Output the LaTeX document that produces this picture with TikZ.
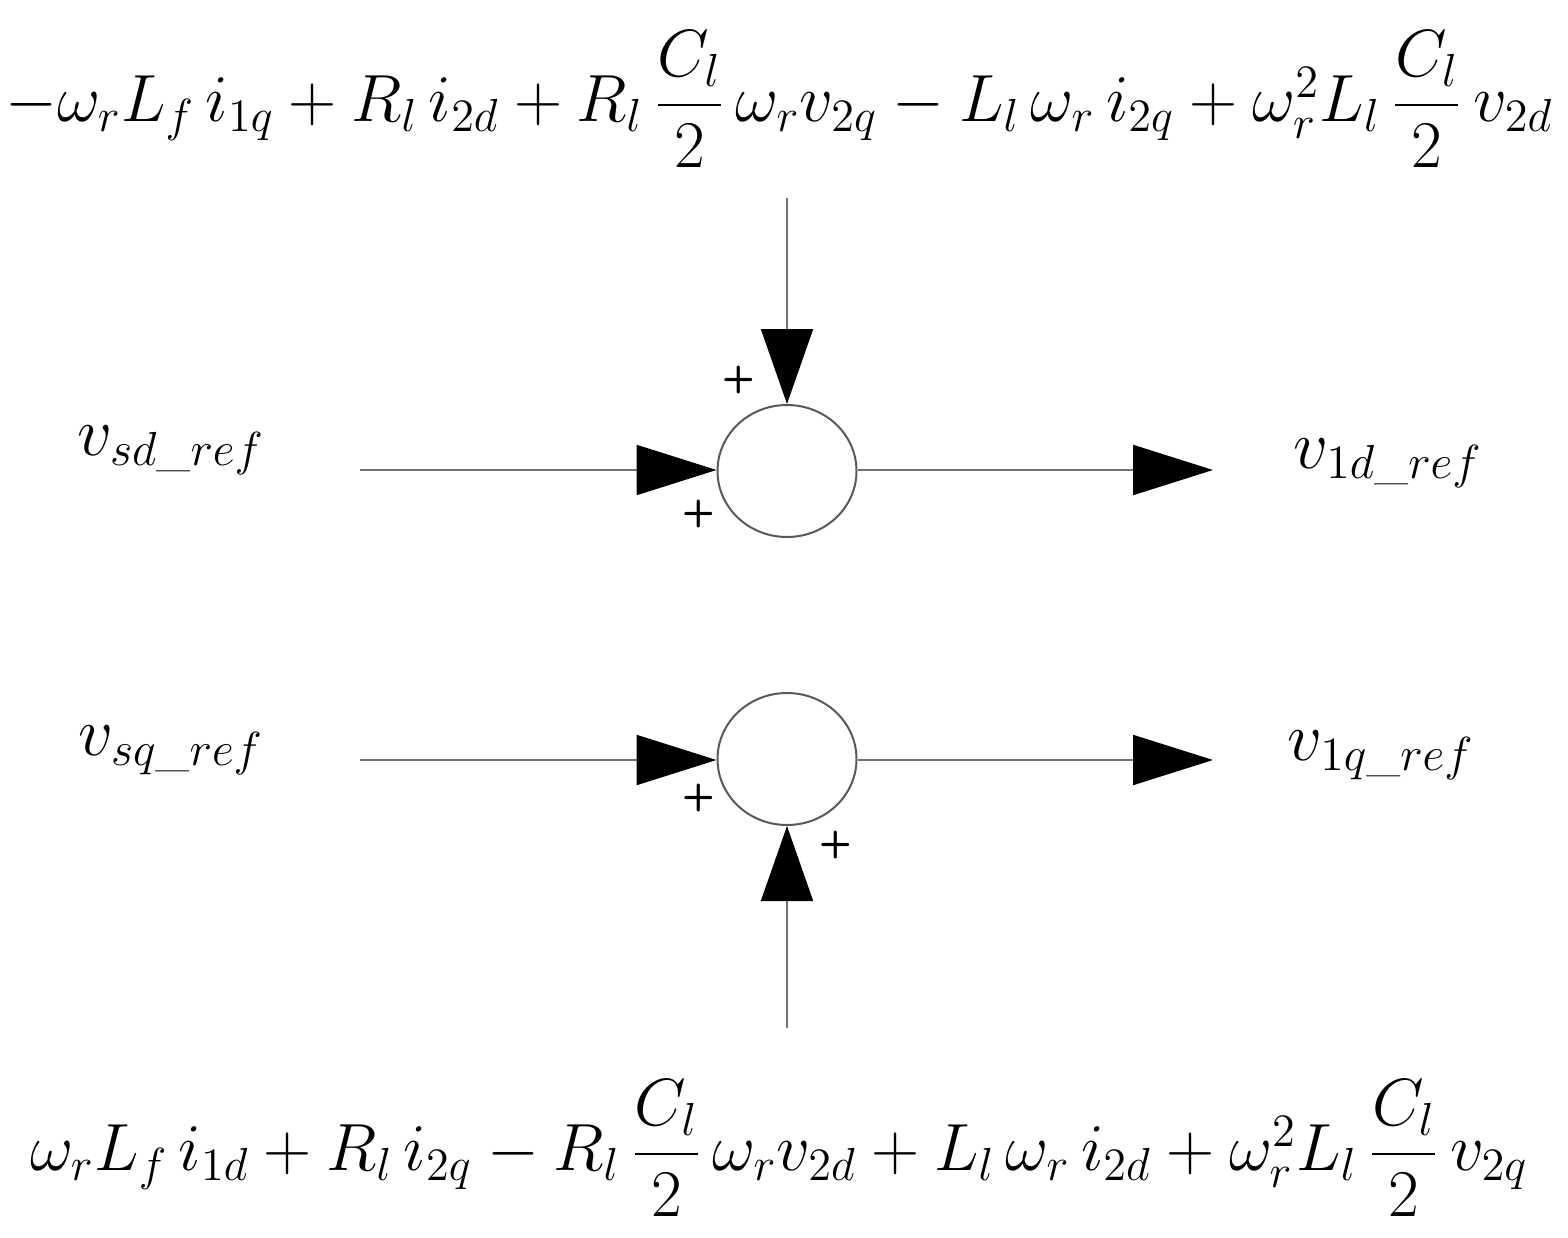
\documentclass[tikz,border=0pt]{standalone}
\usepackage{amsmath,amssymb}
\usetikzlibrary{arrows.meta,positioning,shapes.geometric}
\begin{document}
\begin{tikzpicture}[x=0.5pt,y=-0.5pt,
		sumnode/.style={ellipse,draw=black!65,fill=white,line width=1pt,minimum width=69.5pt,minimum height=66pt,inner sep=0pt},
		marrow/.style={draw=black!55,line width=1.1pt,-{Triangle[length=40pt,width=25pt,color=black]}},
		varrow/.style={draw=black!55,line width=0.9pt,-{Triangle[length=37.5pt,width=26pt,color=black]}},
		pnode/.style={font=\fontsize{19}{20}\sffamily\bfseries\selectfont,inner sep=0pt},
		signal/.style={font=\fontsize{20}{22}\selectfont,inner sep=0pt,scale=1.66,transform shape},
		formula/.style={font=\fontsize{20}{22}\selectfont,inner sep=0pt,scale=1.61,transform shape}]
		\useasboundingbox (0,0) rectangle (1568,1237);
		\node [sumnode] (sum-d) at (787,471) {};
		\node [sumnode] (sum-q) at (787,759) {};

		\node [formula] (top-eq) at (779,99) {\(-\omega_r L_f\, i_{1q}+R_l\, i_{2d}+R_l\,\dfrac{C_l}{2}\,\omega_r v_{2q}-L_l\,\omega_r\, i_{2q}+\omega_r^2 L_l\,\dfrac{C_l}{2}\,v_{2d}\)};
		\node [formula] (bot-eq) at (779,1148) {\(\omega_r L_f\, i_{1d}+R_l\, i_{2q}-R_l\,\dfrac{C_l}{2}\,\omega_r v_{2d}+L_l\,\omega_r\, i_{2d}+\omega_r^2 L_l\,\dfrac{C_l}{2}\,v_{2q}\)};

		\node [signal] (vsd) at (171,450) {\(v_{sd\_ref}\)};
		\node [signal] (vsq) at (171,750) {\(v_{sq\_ref}\)};
		\node [signal] (v1d) at (1388,463) {\(v_{1d\_ref}\)};
		\node [signal] (v1q) at (1381,755) {\(v_{1q\_ref}\)};

		\coordinate (vsd-out) at (360,470);
		\coordinate (vsq-out) at (360,760);
		\coordinate (v1d-in) at (1213,470);
		\coordinate (v1q-in) at (1213,760);
		\coordinate (top-out) at (787,198);
		\coordinate (bot-out) at (787,1028);

		\node [pnode] (plus-top) at (739,380) {+};
		\node [pnode] (plus-d) at (699,514) {+};
		\node [pnode] (plus-q) at (699,798) {+};
		\node [pnode] (plus-bot) at (836,845) {+};

		% horizontal arrows
		\draw [marrow] (vsd-out) to (sum-d.west |- vsd-out);
		\draw [marrow] (sum-d.east |- v1d-in) to (v1d-in);
		\draw [marrow] (vsq-out) to (sum-q.west |- vsq-out);
		\draw [marrow] (sum-q.east |- v1q-in) to (v1q-in);

		% vertical arrows
		\draw [varrow] (top-out) to (sum-d);
		\draw [varrow] (bot-out) to (sum-q);
	\end{tikzpicture}
\end{document}
